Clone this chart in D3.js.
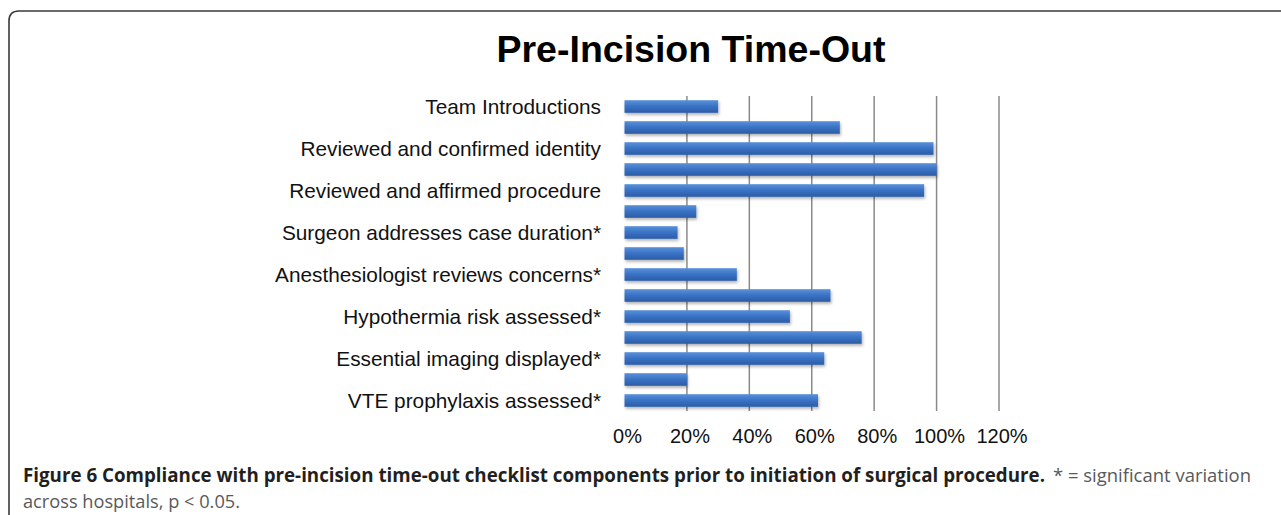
<!DOCTYPE html>
<html>
  <head>
    <title>Pre-Incision Time-Out</title>
    <script src="https://d3js.org/d3.v7.min.js"></script>
    <style>
      body { margin: 0; background: #fff; }
      .title {
        font-family: "Liberation Sans", Arial, sans-serif;
        font-weight: bold;
        font-size: 37.5px;
        fill: #000;
        text-anchor: middle;
      }
      .cat-label, .tick-label {
        font-family: "Liberation Sans", Arial, sans-serif;
        fill: #111;
      }
      .cat-label { text-anchor: end; font-size: 20.8px; }
      .tick-label { text-anchor: middle; font-size: 20px; }
      .grid line {
        stroke: #8a8a8a;
        stroke-width: 1.5px;
      }
      .caption {
        font-family: "Open Sans", "Noto Sans", sans-serif;
        font-size: 19px;
      }
      .caption--bold { font-weight: bold; fill: #231f20; }
      .caption--light { fill: #58595b; }
    </style>
  </head>
  <body>
    <svg width="1281" height="515"></svg>
    <script>
      // only every other category carries a visible label
      const categories = [
        "Team Introductions", null,
        "Reviewed and confirmed identity", null,
        "Reviewed and affirmed procedure", null,
        "Surgeon addresses case duration*", null,
        "Anesthesiologist reviews concerns*", null,
        "Hypothermia risk assessed*", null,
        "Essential imaging displayed*", null,
        "VTE prophylaxis assessed*"
      ];
      const compliance = [0.30, 0.69, 0.99, 1.00, 0.96, 0.23, 0.17, 0.19,
                          0.36, 0.66, 0.53, 0.76, 0.64, 0.20, 0.62];
      const xTicks = [0, 0.2, 0.4, 0.6, 0.8, 1.0, 1.2];

      const svg = d3.select("svg");

      const defs = svg.append("defs");
      const grad = defs.append("linearGradient")
          .attr("id", "barFill")
          .attr("x1", 0).attr("y1", 0).attr("x2", 0).attr("y2", 1);
      grad.append("stop").attr("offset", "0%").attr("stop-color", "#5a91da");
      grad.append("stop").attr("offset", "45%").attr("stop-color", "#3b74c6");
      grad.append("stop").attr("offset", "100%").attr("stop-color", "#2a5ca6");
      defs.append("filter")
          .attr("id", "shadow")
          .attr("x", "-5%").attr("y", "-30%").attr("width", "110%").attr("height", "180%")
        .append("feDropShadow")
          .attr("dx", 1).attr("dy", 2)
          .attr("stdDeviation", 1.4)
          .attr("flood-color", "#000")
          .attr("flood-opacity", 0.3);

      // frame round the figure, open to the right and bottom
      svg.append("path")
          .attr("d", "M9,515 L9,21 Q9,11 19,11 L1281,11")
          .attr("fill", "none")
          .attr("stroke", "#3a3a3a")
          .attr("stroke-width", 1.6);

      svg.append("text")
          .attr("class", "title")
          .attr("x", 691)
          .attr("y", 62)
          .text("Pre-Incision Time-Out");

      const xScale = d3.scaleLinear()
          .domain([0, 1.2])
          .range([624.5, 999]);

      const yScale = d3.scaleBand()
          .domain(d3.range(categories.length))
          .range([96, 411])
          .paddingInner(0.4)
          .paddingOuter(0.2);

      svg.append("g")
          .attr("class", "grid")
        .selectAll("line")
        .data(xTicks.filter(d => d > 0))
        .join("line")
          .attr("x1", d => xScale(d))
          .attr("x2", d => xScale(d))
          .attr("y1", 96)
          .attr("y2", 411);

      svg.append("g")
          .attr("filter", "url(#shadow)")
        .selectAll("rect")
        .data(compliance)
        .join("rect")
          .attr("x", xScale(0))
          .attr("y", (d, i) => yScale(i))
          .attr("width", d => xScale(d) - xScale(0))
          .attr("height", yScale.bandwidth())
          .attr("fill", "url(#barFill)");

      svg.append("g")
        .selectAll("text")
        .data(categories.map((name, i) => ({name, i})).filter(d => d.name))
        .join("text")
          .attr("class", "cat-label")
          .attr("x", 601)
          .attr("y", d => yScale(d.i) + yScale.bandwidth() / 2)
          .attr("dy", "0.36em")
          .text(d => d.name);

      svg.append("g")
        .selectAll("text")
        .data(xTicks)
        .join("text")
          .attr("class", "tick-label")
          .attr("x", d => xScale(d) + 3)
          .attr("y", 443)
          .text(d3.format(".0%"));

      svg.append("text")
          .attr("class", "caption caption--bold")
          .attr("x", 23)
          .attr("y", 482)
          .attr("textLength", 1022)
          .attr("lengthAdjust", "spacingAndGlyphs")
          .text("Figure 6 Compliance with pre-incision time-out checklist components prior to initiation of surgical procedure.");

      svg.append("text")
          .attr("class", "caption caption--light")
          .attr("x", 1053)
          .attr("y", 482)
          .attr("textLength", 198)
          .attr("lengthAdjust", "spacingAndGlyphs")
          .text("* = significant variation");

      svg.append("text")
          .attr("class", "caption caption--light")
          .attr("x", 23)
          .attr("y", 508)
          .attr("textLength", 217)
          .attr("lengthAdjust", "spacingAndGlyphs")
          .text("across hospitals, p < 0.05.");
    </script>
  </body>
</html>
